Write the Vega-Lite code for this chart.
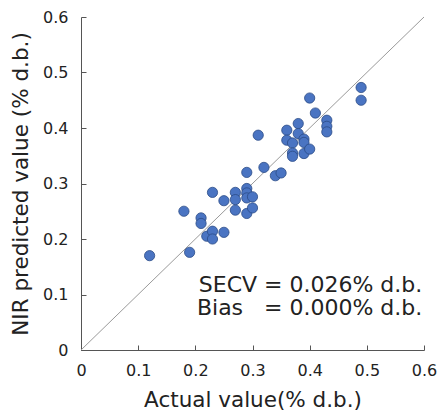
{
  "$schema": "https://vega.github.io/schema/vega-lite/v6.json",
  "width": 343,
  "height": 333,
  "autosize": {"type": "none"},
  "padding": {"left": 81, "top": 17, "right": 16, "bottom": 63},
  "background": "white",
  "config": {
    "view": {"stroke": null},
    "font": "DejaVu Sans",
    "axis": {
      "grid": false,
      "domainColor": "#555555",
      "tickColor": "#555555",
      "tickSize": -5,
      "labelFlush": false,
      "labelOverlap": false,
      "labelFontSize": 16,
      "labelColor": "#222222",
      "titleFontSize": 21.5,
      "titleFontWeight": "normal",
      "titleColor": "#222222"
    }
  },
  "datasets": {
    "pts": [
      {"actual": 0.12, "pred": 0.170},
      {"actual": 0.18, "pred": 0.250},
      {"actual": 0.19, "pred": 0.176},
      {"actual": 0.21, "pred": 0.238},
      {"actual": 0.21, "pred": 0.228},
      {"actual": 0.22, "pred": 0.205},
      {"actual": 0.23, "pred": 0.284},
      {"actual": 0.23, "pred": 0.214},
      {"actual": 0.23, "pred": 0.200},
      {"actual": 0.25, "pred": 0.269},
      {"actual": 0.25, "pred": 0.212},
      {"actual": 0.27, "pred": 0.284},
      {"actual": 0.27, "pred": 0.271},
      {"actual": 0.27, "pred": 0.252},
      {"actual": 0.29, "pred": 0.320},
      {"actual": 0.29, "pred": 0.291},
      {"actual": 0.29, "pred": 0.283},
      {"actual": 0.29, "pred": 0.274},
      {"actual": 0.29, "pred": 0.246},
      {"actual": 0.30, "pred": 0.276},
      {"actual": 0.30, "pred": 0.256},
      {"actual": 0.31, "pred": 0.387},
      {"actual": 0.32, "pred": 0.329},
      {"actual": 0.34, "pred": 0.314},
      {"actual": 0.35, "pred": 0.319},
      {"actual": 0.36, "pred": 0.396},
      {"actual": 0.36, "pred": 0.378},
      {"actual": 0.37, "pred": 0.373},
      {"actual": 0.37, "pred": 0.355},
      {"actual": 0.37, "pred": 0.349},
      {"actual": 0.38, "pred": 0.408},
      {"actual": 0.38, "pred": 0.390},
      {"actual": 0.39, "pred": 0.380},
      {"actual": 0.39, "pred": 0.374},
      {"actual": 0.39, "pred": 0.354},
      {"actual": 0.40, "pred": 0.454},
      {"actual": 0.40, "pred": 0.362},
      {"actual": 0.41, "pred": 0.427},
      {"actual": 0.43, "pred": 0.414},
      {"actual": 0.43, "pred": 0.403},
      {"actual": 0.43, "pred": 0.393},
      {"actual": 0.49, "pred": 0.473},
      {"actual": 0.49, "pred": 0.450}
    ],
    "diag": [
      {"actual": 0, "pred": 0},
      {"actual": 0.6, "pred": 0.6}
    ],
    "notes": [
      {"actual": 0.597, "pred": 0.117, "label": "SECV = 0.026% d.b."},
      {"actual": 0.597, "pred": 0.076, "label": "Bias\u00a0\u00a0\u00a0= 0.000% d.b."}
    ]
  },
  "layer": [
    {
      "data": {"name": "diag"},
      "mark": {"type": "line", "color": "#9a9a9a", "strokeWidth": 1},
      "encoding": {
        "x": {
          "field": "actual", "type": "quantitative",
          "scale": {"domain": [0, 0.6], "nice": false},
          "axis": {"values": [0, 0.1, 0.2, 0.3, 0.4, 0.5, 0.6], "format": "~g", "title": "Actual value(% d.b.)", "labelPadding": 17, "titlePadding": 11}
        },
        "y": {
          "field": "pred", "type": "quantitative",
          "scale": {"domain": [0, 0.6], "nice": false},
          "axis": {"values": [0, 0.1, 0.2, 0.3, 0.4, 0.5, 0.6], "format": "~g", "title": "NIR predicted value (% d.b.)", "labelPadding": 18, "titlePadding": 10}
        }
      }
    },
    {
      "data": {"name": "pts"},
      "mark": {"type": "circle", "size": 105, "fill": "#4a74c2", "stroke": "#2b4b86", "strokeWidth": 0.8, "opacity": 1},
      "encoding": {
        "x": {"field": "actual", "type": "quantitative"},
        "y": {"field": "pred", "type": "quantitative"}
      }
    },
    {
      "data": {"name": "notes"},
      "mark": {"type": "text", "align": "right", "baseline": "middle", "fontSize": 22, "color": "#222222"},
      "encoding": {
        "x": {"field": "actual", "type": "quantitative"},
        "y": {"field": "pred", "type": "quantitative"},
        "text": {"field": "label"}
      }
    }
  ]
}
